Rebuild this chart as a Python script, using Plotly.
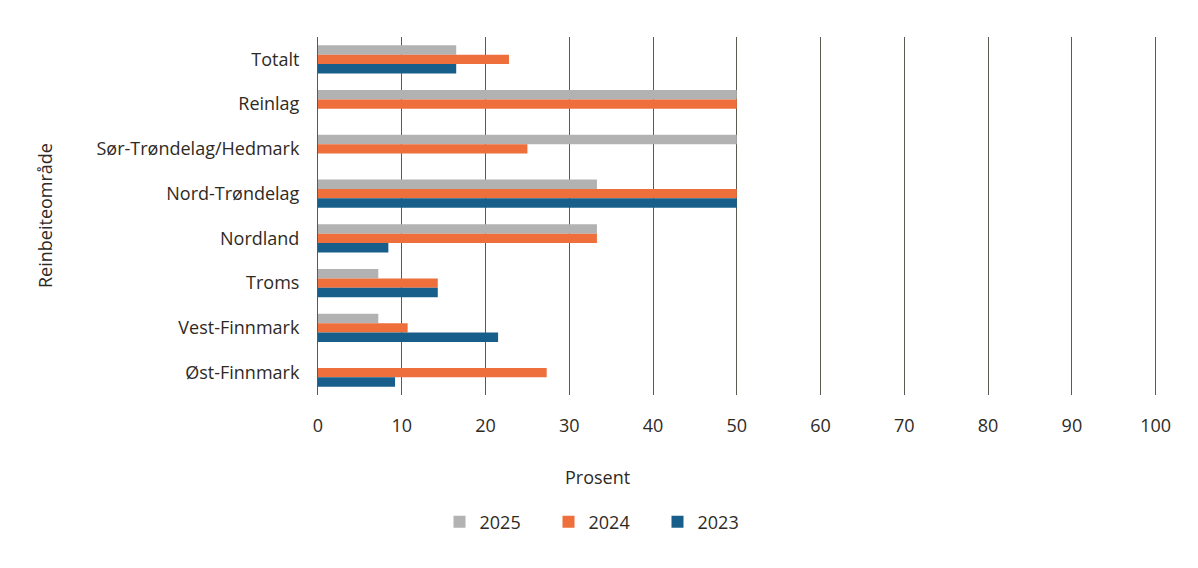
"""Reinbeiteområde - prosent, grouped horizontal bars (Plotly)"""

import plotly.graph_objs as go

areas = ['Totalt', 'Reinlag', 'Sør-Trøndelag/Hedmark', 'Nord-Trøndelag',
         'Nordland', 'Troms', 'Vest-Finnmark', 'Øst-Finnmark']

# values (0 = no bar)
v2025 = [16.5, 50.0, 50.0, 33.3, 33.3, 7.2, 7.2, 0]
v2024 = [22.8, 50.0, 25.0, 50.0, 33.3, 14.3, 10.7, 27.3]
v2023 = [16.5, 0, 0, 50.0, 8.4, 14.3, 21.5, 9.2]

years = ['2025', '2024', '2023']
colors = ['#b2b2b2', '#ee6f3b', '#175f8a']

FONT = 'Open Sans'
TXT = '#2f2a1f'
GRID = '#5c5a4e'

W, H = 1198, 568
# plot area in figure pixels (page body has an 8px margin)
L, R, T, B = 310, 1151, 29, 387
MID = 589  # x-title and legend are centred on the page, not the plot

data = []
for name, vals, col in zip(years, [v2025, v2024, v2023], colors):
    data.append(go.Bar(
        name=name,
        x=vals,
        y=areas,
        orientation='h',
        marker=dict(color=col, line=dict(width=0)),
    ))

layout = go.Layout(dict(
    width=W,
    height=H,
    barmode='group',
    bargap=0.37,
    bargroupgap=0,
    plot_bgcolor='white',
    paper_bgcolor='white',
    font=dict(family=FONT, size=18, color=TXT),
    margin=dict(l=L, r=W - R, t=T, b=H - B),
    xaxis=dict(
        range=[0, 100.4],
        dtick=10,
        showgrid=True,
        gridcolor=GRID,
        gridwidth=1,
        zeroline=False,
        showline=False,
        ticks='outside',
        ticklen=14,
        tickcolor='white',
        automargin=False,
    ),
    yaxis=dict(
        autorange='reversed',
        showline=True,
        linecolor=GRID,
        linewidth=1,
        showgrid=False,
        ticks='outside',
        ticklen=14,
        tickcolor='white',
        automargin=False,
    ),
    legend=dict(
        orientation='h',
        x=(MID + 6) / W,
        xanchor='center',
        xref='container',
        y=1 - 514 / H,
        yanchor='middle',
        yref='container',
        entrywidth=64,
        font=dict(size=18),
    ),
    annotations=[
        dict(text='Prosent', xref='paper', yref='paper', x=(MID - L) / (R - L),
             y=(B - 469) / (B - T), showarrow=False,
             xanchor='center', yanchor='middle', font=dict(size=18)),
        dict(text='Reinbeiteområde', xref='paper', yref='paper',
             x=(37 - L) / (R - L), y=0.5, showarrow=False, textangle=-90,
             xanchor='center', yanchor='middle', font=dict(size=18)),
    ],
    hovermode='closest',
))

fig = go.Figure(data=data, layout=layout)
fig.write_html('out.html')
